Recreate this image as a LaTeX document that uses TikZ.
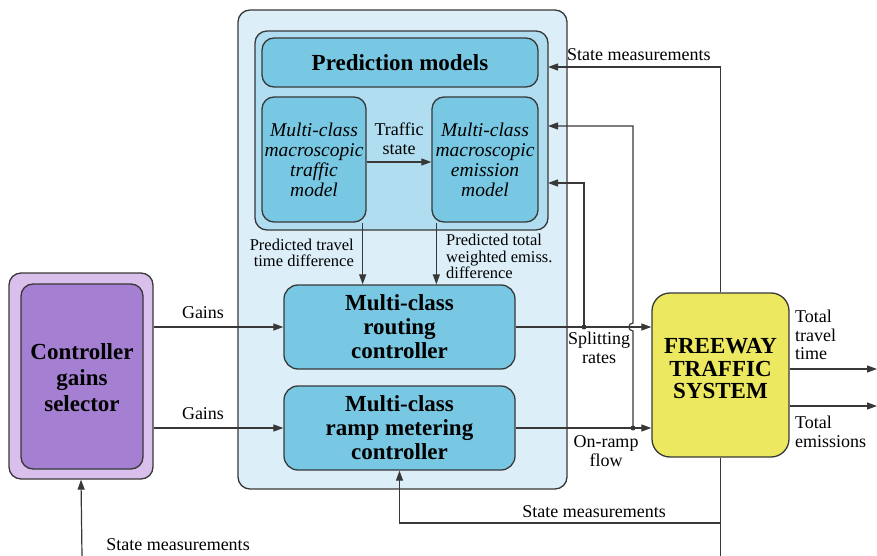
\documentclass[tikz,border=0pt]{standalone}
\usepackage{fontspec}
\setmainfont{Liberation Serif}
\renewcommand{\familydefault}{\rmdefault}
\usetikzlibrary{arrows.meta,calc}
\definecolor{paleblue}{HTML}{DCEFF9}
\definecolor{midblue}{HTML}{B0DDF0}
\definecolor{boxblue}{HTML}{78C8E3}
\definecolor{lpurple}{HTML}{D9BFEC}
\definecolor{dpurple}{HTML}{A47FD2}
\definecolor{fwyellow}{HTML}{ECE860}
\definecolor{edge}{HTML}{383838}
\newcommand{\bigfont}{\rmfamily\fontsize{23}{24}\selectfont\bfseries}
\newcommand{\itfont}{\rmfamily\fontsize{19.5}{20}\selectfont\itshape}
\newcommand{\lblfont}{\rmfamily\fontsize{18}{18.5}\selectfont}
\newcommand{\smlfont}{\rmfamily\fontsize{16.5}{16.5}\selectfont}
\tikzset{
  blk/.style={draw=edge, line width=1.3pt, rounded corners=#1, inner sep=0pt, align=center},
  blk/.default=10pt,
  txt/.style={inner sep=0pt, align=center},
  arr/.style={draw=edge, line width=1.2pt, -{Triangle[length=10pt,width=7pt]}},
  ln/.style={draw=edge, line width=1.2pt},
  lbl/.style={inner sep=0pt, align=center, font=\lblfont},
  dotc/.style={circle, fill=edge, inner sep=0pt, minimum size=5pt}
}
\begin{document}
\begin{tikzpicture}[x=1pt,y=-1pt,font=\rmfamily]
\useasboundingbox (0,0) rectangle (877,556);
% outer controller box
\node[blk=12pt, fill=paleblue, minimum width=329pt, minimum height=479pt] (outer) at (402.5,249.5) {};
\node[blk=12pt, fill=midblue, minimum width=293pt, minimum height=199pt] (cont) at (401.5,130.5) {};
\node[blk=12pt, fill=boxblue, minimum width=276pt, minimum height=49pt, font=\bigfont] (pm) at (400,62.5) {Prediction models};
\node[blk=12pt, fill=boxblue, minimum width=104pt, minimum height=125pt, font=\itfont] (tm) at (314,159.5) {Multi-class\\macroscopic\\traffic\\model};
\node[blk=12pt, fill=boxblue, minimum width=106pt, minimum height=125pt, font=\itfont] (em) at (485,159.5) {Multi-class\\macroscopic\\emission\\model};
\node[blk=14pt, fill=boxblue, minimum width=231pt, minimum height=84pt, font=\bigfont] (rc) at (399.5,327) {Multi-class\\routing\\controller};
\node[blk=14pt, fill=boxblue, minimum width=231pt, minimum height=84pt, font=\bigfont] (rm) at (399.5,428) {Multi-class\\ramp metering\\controller};
% gains selector
\node[blk=12pt, fill=lpurple, minimum width=144pt, minimum height=206pt] (gsel) at (81,376) {};
\node[blk=12pt, fill=dpurple, minimum width=122pt, minimum height=185pt] (gin) at (82,376.5) {};
\node[txt, font=\bigfont] (gtxt) at (82,378) {Controller\\[2pt]gains\\[2pt]selector};
% freeway
\node[blk=18pt, fill=fwyellow, minimum width=137pt, minimum height=164pt] (fw) at (720.5,375) {};
\node[txt, font=\bigfont] (fwtxt) at (720.5,369) {FREEWAY\\[-1.5pt]TRAFFIC\\[-1.5pt]SYSTEM};

% coordinates
\coordinate (p1) at (548,67);
\coordinate (p2) at (548,126);
\coordinate (p3) at (548,183);
\coordinate (j1) at (584,327);
\coordinate (j2) at (633,428);
\coordinate (b1) at (720.5,523);
\coordinate (bot) at (720.5,556);
\coordinate (gb) at (82,556);
\coordinate (o1) at (877,369);
\coordinate (o2) at (877,406);

% traffic state
\draw[arr] ([yshift=-2.5pt]tm.east) -- ([yshift=-2.5pt]em.west);
\node[lbl] (ts) at (399,139) {Traffic\\state};

% predicted arrows
\draw[arr] ([xshift=-4pt]tm.south east) -- ([xshift=-4pt]tm.south east |- rc.north);
\draw[arr] ([xshift=5pt]em.south west) -- ([xshift=5pt]em.south west |- rc.north);
\node[inner sep=0pt, align=right, font=\smlfont, anchor=east] (ptt) at (354,253) {Predicted travel\\time difference};
\node[inner sep=0pt, align=left, font=\smlfont, anchor=west] (pte) at (446,256.5) {Predicted total\\weighted emiss.\\difference};

% gains
\draw[arr] (gsel.east |- rc.west) -- (rc.west);
\draw[arr] (gsel.east |- rm.west) -- (rm.west);
\node[lbl] (g1) at (203,313) {Gains};
\node[lbl] (g2) at (203,414) {Gains};

% controller outputs
\draw[arr] (rc.east) -- (rc.east -| fw.west);
\draw[arr] (rm.east) -- (rm.east -| fw.west);
\node[dotc] (d1) at (j1) {};
\node[dotc] (d2) at (j2) {};
\draw[arr] (j1) |- (p3);
\draw[arr] (j2) -- (633,331) .. controls (627.5,331) and (627.5,323) .. (633,323) |- (p2);
\node[lbl] (sr) at (599,348) {Splitting\\rates};
\node[lbl] (orf) at (606,451) {On-ramp\\flow};

% state measurements top
\draw[arr] (fw.north) |- (p1);
\node[lbl, anchor=west] (smt) at (567,55) {State measurements};

% outputs
\draw[arr] (fw.east |- o1) -- (o1);
\draw[arr] (fw.east |- o2) -- (o2);
\node[lbl, align=left, anchor=west] (ttt) at (795,335) {Total\\travel\\time};
\node[lbl, align=left, anchor=west] (tem) at (795,432) {Total\\emissions};

% bottom feedback
\draw[ln] (fw.south) -- (bot);
\draw[arr] (b1) -| (rm.south);
\node[lbl] (smb) at (594,512) {State measurements};

% gains selector feedback
\draw[arr] (gb) -- (gsel.south);
\node[lbl] (sml) at (178,545) {State measurements};
\end{tikzpicture}
\end{document}
